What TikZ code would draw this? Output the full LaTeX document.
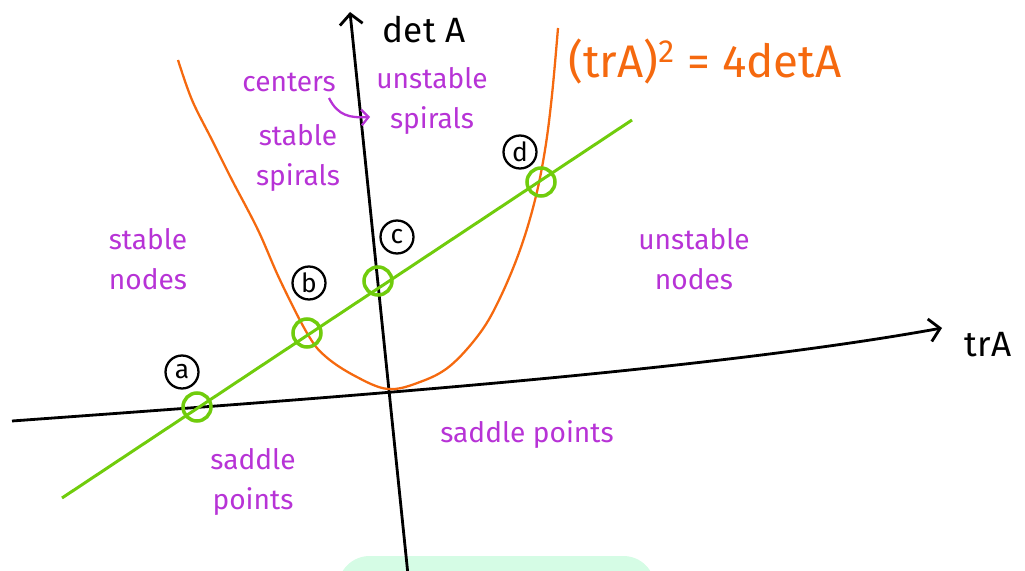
\documentclass[tikz,border=0pt]{standalone}
\usepackage{fontspec}
\setmainfont{Fira Sans}
\usepackage{tikz}
\usetikzlibrary{arrows.meta}
\definecolor{regionpurple}{RGB}{183,51,214}
\definecolor{curveorange}{RGB}{245,105,15}
\definecolor{linegreen}{RGB}{112,204,12}
\definecolor{blobgreen}{RGB}{213,252,229}

\begin{document}
\begin{tikzpicture}[
  x=0.02cm, y=-0.02cm,
  axis/.style={line width=1.6pt, -{Straight Barb[length=6pt,width=13pt]}},
  region/.style={text=regionpurple, font=\fontsize{16}{23}\selectfont, align=center},
  ring/.style={circle, draw=linegreen, line width=2pt, minimum size=0.56cm, inner sep=0pt},
  tag/.style={circle, draw, line width=1.3pt, minimum size=0.66cm, inner sep=0pt,
    font=\fontsize{15}{15}\selectfont},
  pointer/.style={regionpurple, line width=1.3pt, -{Straight Barb[length=4pt,width=9pt]}}
]
  \useasboundingbox (0,0) rectangle (1025,571);

  % Light green blob at the bottom
  \fill[blobgreen, rounded corners=18pt] (338,556) rectangle (655,610);

  % Axes
  \coordinate (xL) at (12,421);
  \coordinate (xR) at (942,328);
  \coordinate (yB) at (408,575);
  \coordinate (yT) at (350,12);
  \draw[axis] (xL) .. controls (300,400) and (700,372) .. (xR);
  \draw[axis] (yB) -- (yT);
  \node[font=\fontsize{20}{20}\selectfont] (trlbl) at (988,345) {trA};
  \node[font=\fontsize{20}{20}\selectfont] (detlbl) at (424,30) {det A};

  % Parabola (trA)^2 = 4 det A
  \draw[curveorange, line width=1.3pt] plot[smooth, tension=0.6] coordinates {
    (178,60) (192,100) (212,140) (232,180) (258,230) (280,280) (307,333)
    (325,356) (355,376) (388,389) (420,382) (450,366) (480,333) (500,298)
    (520,250) (535,200) (545,150) (552,95) (558,28)};
  \node[text=curveorange, font=\fontsize{26}{26}\selectfont] (formula) at (705,62)
    {(trA)\textsuperscript{2} = 4detA};

  % Green line and its crossings
  \coordinate (gL) at (62,498);
  \coordinate (gR) at (632,120);
  \draw[linegreen, line width=1.7pt] (gL) -- (gR);
  \node[ring] (ra) at (197,407) {};
  \node[ring] (rb) at (307,333) {};
  \node[ring] (rc) at (378,281) {};
  \node[ring] (rd) at (541,182) {};

  % Point tags
  \node[tag] (ta) at (182,372) {a};
  \node[tag] (tb) at (309,283) {b};
  \node[tag] (tc) at (397,237) {c};
  \node[tag] (td) at (520,152) {d};

  % Region labels
  \node[region] (stnodes) at (148,259) {stable\\nodes};
  \node[region] (centers) at (289,82) {centers};
  \node[region] (unspir) at (432,101) {unstable\\spirals};
  \node[region] (stspir) at (298,158) {stable\\spirals};
  \node[region] (unnodes) at (694,259) {unstable\\nodes};
  \node[region] (sadR) at (527,435) {saddle points};
  \node[region] (sadL) at (253,482) {saddle\\points};

  % Centers pointer
  \coordinate (ctip) at (370,117);
  \draw[pointer] (329,98) .. controls (338,116) and (350,118) .. (ctip);
\end{tikzpicture}
\end{document}
